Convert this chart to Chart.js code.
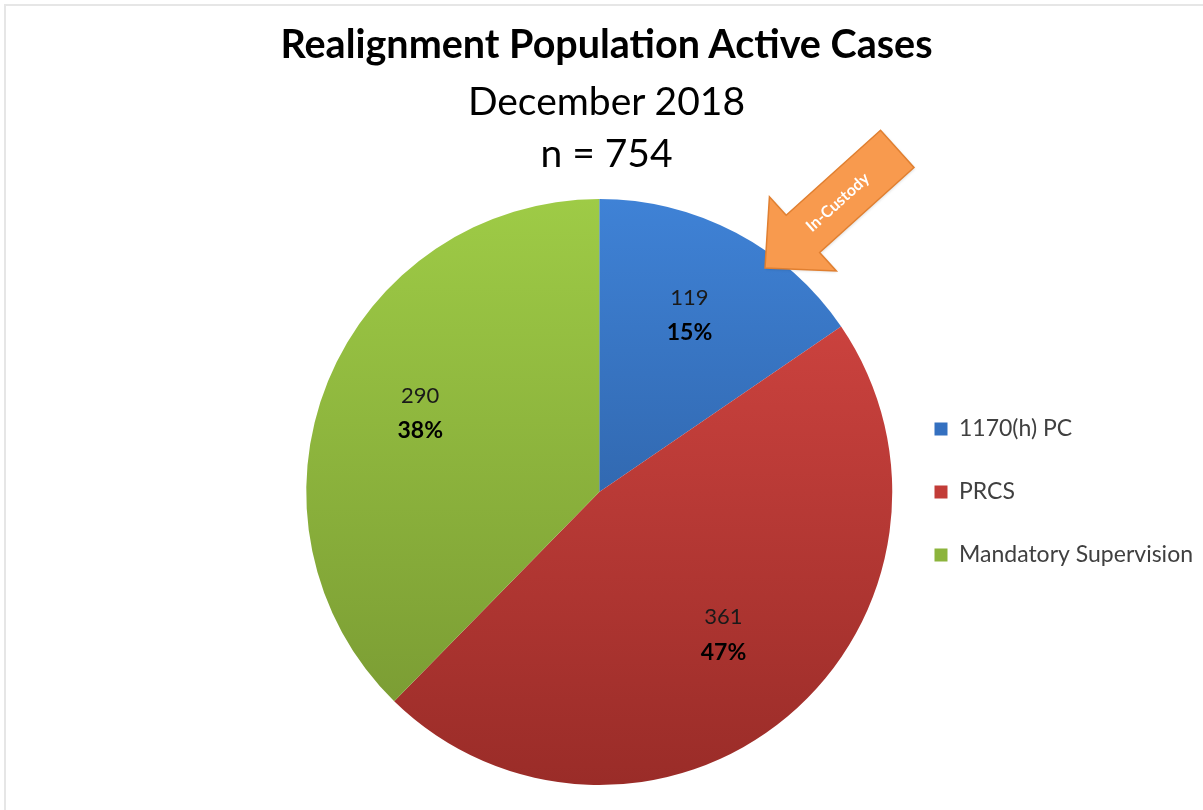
<!DOCTYPE html>
<html lang="en">
<head>
    <meta charset="UTF-8">
    <title>Realignment Population Active Cases</title>
    <script src="https://cdn.jsdelivr.net/npm/chart.js"></script>
    <style>
body {
    margin: 0;
    padding: 0;
    background: #fff;
    font-family: Lato, 'Open Sans', sans-serif;
}
.frame {
    position: absolute;
    left: 4px;
    top: 4px;
    width: 1199px;
    height: 806px;
    border-left: 2px solid #e6e6e6;
    border-top: 2px solid #e6e6e6;
    box-sizing: border-box;
}
.wrap {
    position: absolute;
    left: 0;
    top: 0;
    width: 1203px;
    height: 810px;
}
.heading {
    position: absolute;
    left: 5px;
    width: 1203px;
    text-align: center;
    font-size: 39px;
    line-height: 52px;
    color: #000;
    white-space: nowrap;
}
#title { top: 17px; font-weight: bold; font-size: 39.5px; }
#sub1 { top: 74px; }
#sub2 { top: 126px; }
    </style>
</head>
<body>
    <div class="frame"></div>
    <div class="wrap"><canvas id="pieChart"></canvas></div>
    <div class="heading" id="title"></div>
    <div class="heading" id="sub1"></div>
    <div class="heading" id="sub2"></div>
    <script>
        const categories = ['1170(h) PC', 'PRCS', 'Mandatory Supervision'];
        const caseCounts = [119, 361, 290];
        const titleText = 'Realignment Population Active Cases';
        const subtitleLines = ['December 2018', 'n = 754'];

        // top / bottom colours of each slice gradient
        const topColors = ['#3f82d6', '#d84844', '#9ecb46'];
        const bottomColors = ['#24508c', '#9a2c28', '#769631'];
        const legendColors = ['#3470c0', '#c23c38', '#8cb43c'];

        const FONT = 'Lato, "Open Sans", sans-serif';

        document.getElementById('title').textContent = titleText;
        document.getElementById('sub1').textContent = subtitleLines[0];
        document.getElementById('sub2').textContent = subtitleLines[1];

        function sliceGradient(context) {
            const chart = context.chart;
            const area = chart.chartArea;
            if (!area) return legendColors[context.dataIndex];
            const g = chart.ctx.createLinearGradient(0, area.top, 0, area.bottom);
            g.addColorStop(0, topColors[context.dataIndex]);
            g.addColorStop(1, bottomColors[context.dataIndex]);
            return g;
        }

        const sliceLabels = {
            id: 'sliceLabels',
            afterDatasetsDraw(chart) {
                const ctx = chart.ctx;
                const meta = chart.getDatasetMeta(0);
                const total = caseCounts.reduce((a, b) => a + b, 0);
                ctx.save();
                ctx.textAlign = 'center';
                ctx.textBaseline = 'middle';
                meta.data.forEach((arc, i) => {
                    const p = arc.getProps(['x', 'y', 'startAngle', 'endAngle', 'outerRadius'], true);
                    const mid = (p.startAngle + p.endAngle) / 2;
                    const r = p.outerRadius * 0.66;
                    const x = p.x + Math.cos(mid) * r;
                    const y = p.y + Math.sin(mid) * r - 6;
                    ctx.fillStyle = '#1a1a1a';
                    ctx.font = '22px ' + FONT;
                    ctx.fillText(String(caseCounts[i]), x, y - 17);
                    ctx.fillStyle = '#000';
                    ctx.font = 'bold 23px ' + FONT;
                    ctx.fillText(Math.round(caseCounts[i] / total * 100) + '%', x, y + 18);
                });
                ctx.restore();
            }
        };

        // orange "In-Custody" callout arrow
        const calloutArrow = {
            id: 'calloutArrow',
            afterDraw(chart) {
                const ctx = chart.ctx;
                ctx.save();
                ctx.translate(765, 268);
                ctx.rotate(-42 * Math.PI / 180);
                ctx.beginPath();
                ctx.moveTo(0, 0);
                ctx.lineTo(51, -50);
                ctx.lineTo(51, -25);
                ctx.lineTo(178, -25);
                ctx.lineTo(178, 25);
                ctx.lineTo(51, 25);
                ctx.lineTo(51, 50);
                ctx.closePath();
                ctx.shadowColor = 'rgba(0,0,0,0.15)';
                ctx.shadowBlur = 3;
                ctx.shadowOffsetX = 1;
                ctx.shadowOffsetY = 1;
                ctx.fillStyle = '#f89a4e';
                ctx.fill();
                ctx.shadowColor = 'transparent';
                ctx.lineWidth = 1.5;
                ctx.strokeStyle = '#e07f30';
                ctx.stroke();
                ctx.fillStyle = '#fff';
                ctx.font = 'bold 16px ' + FONT;
                ctx.textAlign = 'center';
                ctx.textBaseline = 'middle';
                ctx.fillText('In-Custody', 98, 0);
                ctx.restore();
            }
        };

        const ctx = document.getElementById('pieChart').getContext('2d');
        const pieChart = new Chart(ctx, {
            type: 'pie',
            data: {
                labels: categories,
                datasets: [{
                    data: caseCounts,
                    backgroundColor: sliceGradient,
                    borderWidth: 0
                }]
            },
            options: {
                responsive: true,
                maintainAspectRatio: false,
                animation: false,
                layout: {
                    padding: { left: 304, right: 0, top: 199, bottom: 25 }
                },
                plugins: {
                    tooltip: { enabled: false },
                    title: { display: false },
                    legend: {
                        position: 'right',
                        align: 'center',
                        labels: {
                            color: '#404040',
                            font: { family: FONT, size: 23 },
                            boxWidth: 13,
                            boxHeight: 13,
                            padding: 40,
                            generateLabels(chart) {
                                return categories.map((c, i) => ({
                                    text: c,
                                    fillStyle: legendColors[i],
                                    strokeStyle: legendColors[i],
                                    lineWidth: 0,
                                    fontColor: '#404040',
                                    index: i
                                }));
                            }
                        }
                    }
                }
            },
            plugins: [sliceLabels, calloutArrow]
        });
    </script>
</body>
</html>
